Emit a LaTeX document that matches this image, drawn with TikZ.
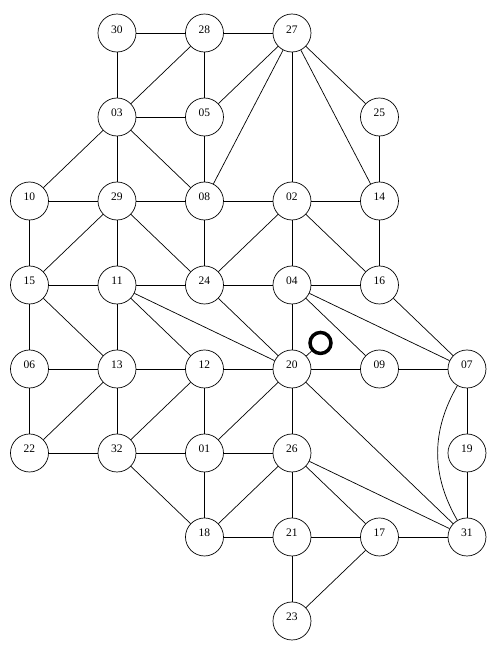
\documentclass[tikz,border=0pt]{standalone}
\usepackage{fontspec}
\setmainfont{Liberation Serif}
\usepackage{tikz}

\begin{document}
\begin{tikzpicture}[x=87.5pt, y=84pt, line width=0.7pt,
  cell/.style={draw, circle, minimum size=38pt, inner sep=0pt,
               font=\fontsize{11.5}{13}\selectfont, text height=8pt, text depth=8pt}]
  \useasboundingbox (-0.337,-0.393) rectangle (5.366,7.393);
  % các nút (cột/hàng)
  \foreach \n/\x/\y in {30/1/7, 28/2/7, 27/3/7,
                        03/1/6, 05/2/6, 25/4/6,
                        10/0/5, 29/1/5, 08/2/5, 02/3/5, 14/4/5,
                        15/0/4, 11/1/4, 24/2/4, 04/3/4, 16/4/4,
                        06/0/3, 13/1/3, 12/2/3, 20/3/3, 09/4/3, 07/5/3,
                        22/0/2, 32/1/2, 01/2/2, 26/3/2, 19/5/2,
                        18/2/1, 21/3/1, 17/4/1, 31/5/1,
                        23/3/0}{
    \node[cell] (n\n) at (\x,\y) {\n};
  }
  % vòng nhỏ cạnh 20
  \node[draw, circle, line width=3.5pt, minimum size=21pt, inner sep=0pt] (ring) at (3.326,3.31) {};
  \draw (n20) -- (ring);
  % các cạnh
  \foreach \a/\b in {30/28, 28/27, 30/03, 28/03, 28/05, 27/05, 27/08, 27/02, 27/14, 27/25,
                     03/05, 03/10, 03/29, 03/08, 05/08, 25/14,
                     10/29, 10/15, 29/15, 29/11, 29/08, 29/24,
                     08/02, 08/24, 02/14, 02/24, 02/04, 02/16, 14/16,
                     15/11, 15/06, 15/13, 11/24, 11/13, 11/12, 11/20,
                     24/04, 24/20, 04/16, 04/20, 04/09, 04/07, 16/07,
                     06/13, 06/22, 13/12, 13/32, 13/22, 12/20, 12/32, 12/01,
                     20/09, 20/01, 20/26, 20/31, 09/07, 07/19,
                     22/32, 32/01, 32/18, 01/26, 01/18,
                     26/18, 26/21, 26/17, 26/31, 19/31,
                     18/21, 21/17, 17/31, 21/23, 17/23}{
    \draw (n\a) -- (n\b);
  }
  % cạnh cong 07--31
  \draw (n07) to[out=-120, in=120] (n31);
\end{tikzpicture}
\end{document}
